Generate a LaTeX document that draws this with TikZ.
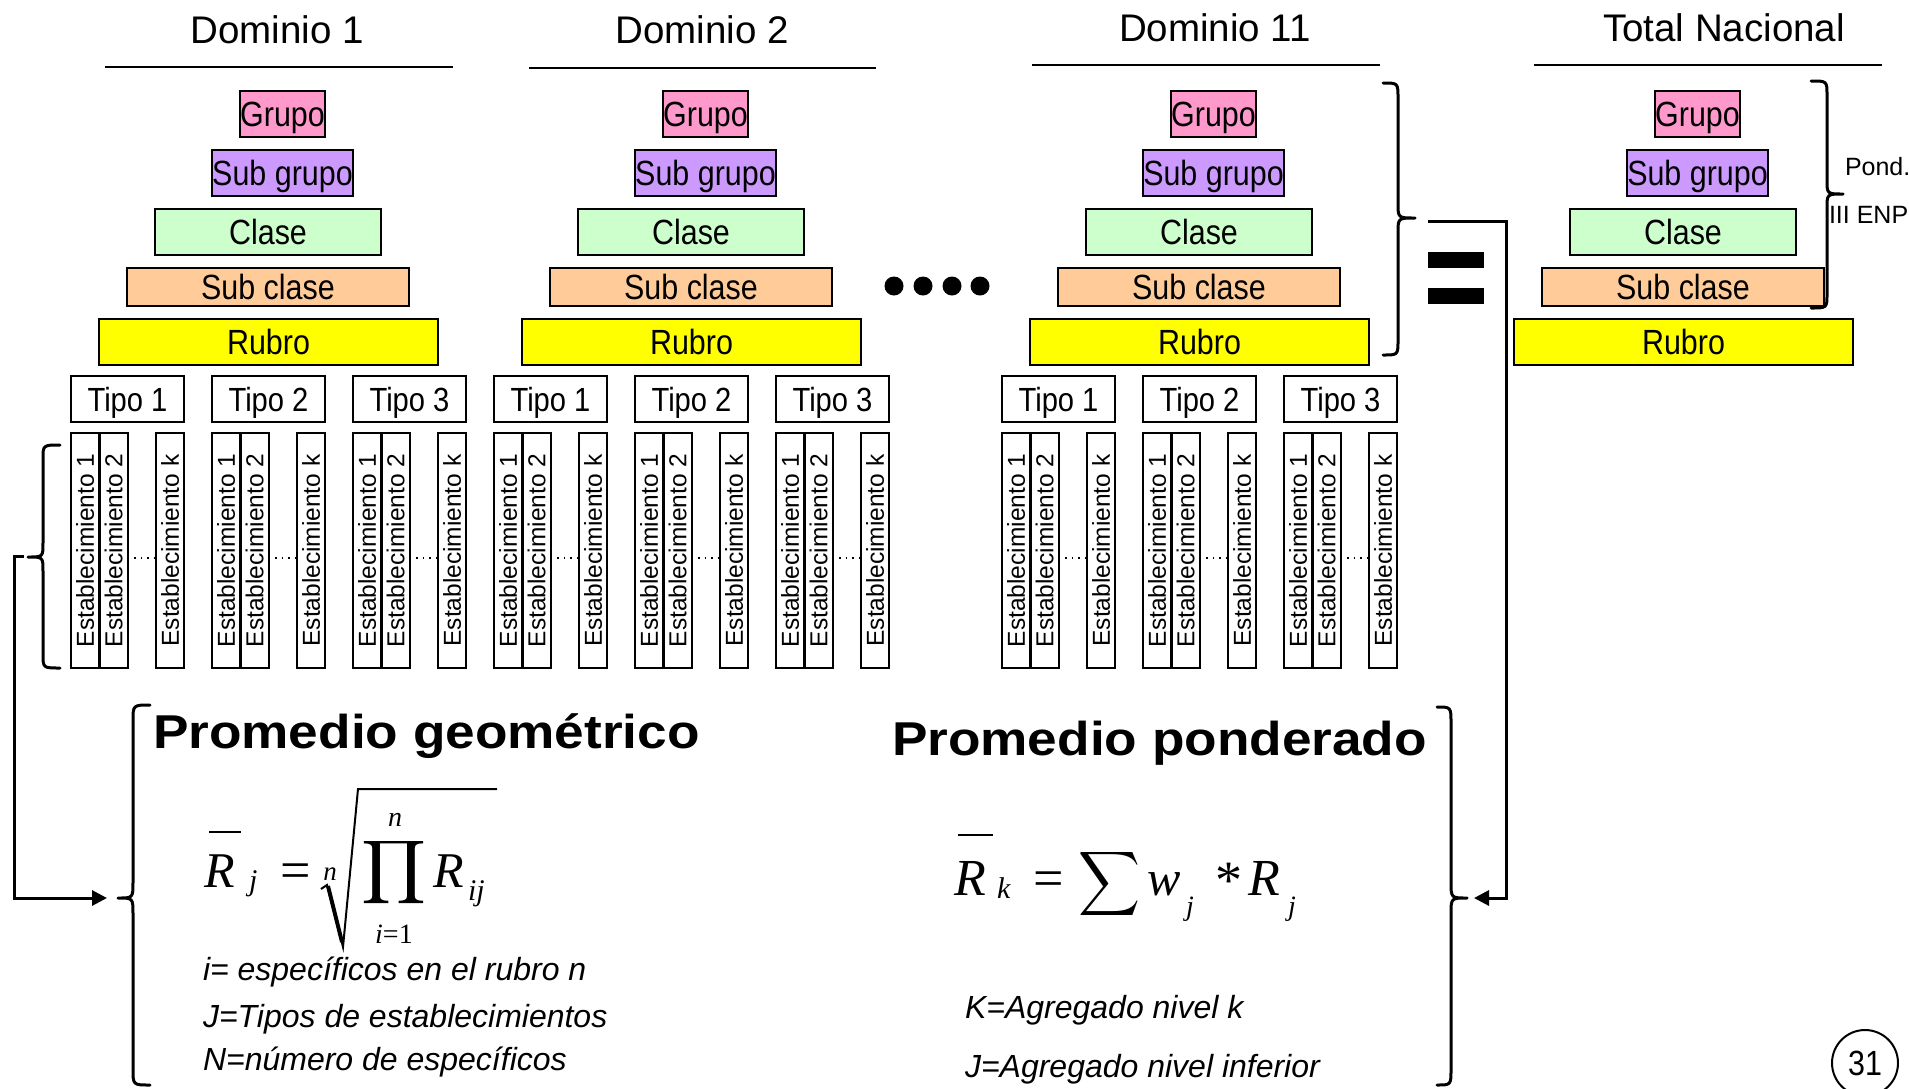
\documentclass[tikz,border=0pt]{standalone}
\usepackage{fontspec}
\usepackage{graphicx}
\setmainfont{Liberation Sans}
\newfontfamily\myNarrow[FakeStretch=0.87]{Liberation Sans}
\newfontfamily\myWide[FakeStretch=1.12]{Liberation Sans}
\newfontfamily\myTimes{Liberation Serif}
\usetikzlibrary{arrows.meta}
\definecolor{cgrupo}{HTML}{FF99CC}
\definecolor{csubgrupo}{HTML}{CC99FF}
\definecolor{cclase}{HTML}{CCFFCC}
\definecolor{csubclase}{HTML}{FFCC99}
\definecolor{crubro}{HTML}{FFFF00}
\newcommand\fsz[1]{\fontsize{#1}{#1}\selectfont}
\begin{document}
\begin{tikzpicture}[x=1pt,y=-1pt,
  every node/.style={inner sep=0pt, outer sep=0pt},
  lvl/.style={draw=black, line width=2.2pt, font=\myNarrow\fsz{35}, text height=25pt, text depth=0pt, minimum height=46pt},
  tipobox/.style={draw=black, line width=2.2pt, font=\myNarrow\fsz{33.5}, text height=24pt, text depth=0pt, minimum height=46pt, minimum width=113pt},
  estbox/.style={draw=black, line width=2pt, rotate=90, minimum width=235pt, minimum height=28pt, font=\fsz{24.5}, text height=17.5pt, text depth=0pt},
  hdr/.style={font=\fsz{38.5}, anchor=base},
  rulel/.style={line width=2pt},
  brace/.style={line width=3pt, line cap=round, line join=round},
  conn/.style={line width=3pt, -{Triangle[length=15pt,width=15pt]}},
  dotline/.style={line width=1.5pt, dash pattern=on 1.5pt off 5pt},
  note/.style={font=\itshape\fsz{32}, anchor=base west},
  ttl/.style={font=\myWide\bfseries\fsz{47.5}, anchor=base west},
  mit/.style={font=\myTimes\itshape\fsz{#1}},
  mrm/.style={font=\myTimes\fsz{#1}},
]
\useasboundingbox (0,0) rectangle (1909,1088);
\clip (0,0) rectangle (1909,1088);
\fill[white] (0,0) rectangle (1909,1088);

% headers
\node[hdr] (h1) at (277,43) {Dominio 1};
\node[hdr] (h2) at (702,43) {Dominio 2};
\node[hdr] (h3) at (1215,41) {Dominio 11};
\node[hdr] (h4) at (1724,41) {Total Nacional};
\draw[rulel] (105,67) -- (453,67);
\draw[rulel] (529,68) -- (876,68);
\draw[rulel] (1032,65) -- (1380,65);
\draw[rulel] (1534,65) -- (1882,65);

% pyramids
\foreach \o/\d in {0/1,423/2,931/3,1415/4}{
  \node[lvl, fill=cgrupo, minimum width=85pt] (grupo\d) at (\o+282.5,114) {Grupo};
  \node[lvl, fill=csubgrupo, minimum width=141pt] (subgrupo\d) at (\o+282.5,173) {Sub grupo};
  \node[lvl, fill=cclase, minimum width=226pt] (clase\d) at (\o+268,232) {Clase};
  \node[lvl, fill=csubclase, minimum width=282pt, minimum height=38pt] (subclase\d) at (\o+268,287) {Sub clase};
  \node[lvl, fill=crubro, minimum width=339pt] (rubro\d) at (\o+268.5,342) {Rubro};
}

% tipos and establecimientos
\foreach \o/\d in {0/1,423/2,931/3}{
  \foreach \t in {1,2,3}{
    \pgfmathsetmacro\xo{\o+71+141*(\t-1)}
    \node[tipobox] (tipo\d\t) at (\xo+56.5,399) {Tipo \t};
    \node[estbox] (est\d\t a) at (\xo+14,550.5) {Establecimiento 1};
    \node[estbox] (est\d\t b) at (\xo+42.5,550.5) {Establecimiento 2};
    \node[estbox] (est\d\t k) at (\xo+99,550.5) {Establecimiento k};
    \draw[dotline] ([yshift=-7.5pt]est\d\t b.south) -- ([yshift=-7.5pt]est\d\t k.north);
  }
}

% dots between domains
\foreach \cx in {894,923,952,980}{\fill (\cx,286) circle (9.5pt);}

% big equal sign
\fill (1428,252) rectangle (1484,268);
\fill (1428,288) rectangle (1484,304);

% braces
\draw[brace] (60,445) .. controls (43,445) .. (43,459) -- (43,543) .. controls (43,557) .. (28,557) .. controls (43,557) .. (43,571) -- (43,654) .. controls (43,668) .. (60,668);
\draw[brace] (150,705) .. controls (133,705) .. (133,721) -- (133,882) .. controls (133,898) .. (118,898) .. controls (133,898) .. (133,914) -- (133,1069) .. controls (133,1085) .. (150,1085);
\draw[brace] (1437,707) .. controls (1451,707) .. (1451,723) -- (1451,882) .. controls (1451,898) .. (1467,898) .. controls (1451,898) .. (1451,914) -- (1451,1069) .. controls (1451,1085) .. (1437,1085);
\draw[brace] (1383,83) .. controls (1398,83) .. (1398,98) -- (1398,203) .. controls (1398,218) .. (1415,218) .. controls (1398,218) .. (1398,233) -- (1398,340) .. controls (1398,355) .. (1383,355);
\draw[brace] (1811,81) .. controls (1827,81) .. (1827,95) -- (1827,180) .. controls (1827,194) .. (1843,194) .. controls (1827,194) .. (1827,208) -- (1827,294) .. controls (1827,308) .. (1811,308);

\node[font=\fsz{25}, anchor=base west] (pond) at (1845,175) {Pond.};
\node[font=\fsz{25}, anchor=base west] (enp) at (1829,223) {III ENP};

% connectors
\coordinate (estbr) at (24,556);
\coordinate (geotip) at (107,898);
\draw[conn] (estbr) -- ++(-10,0) |- (geotip);
\coordinate (eqtop) at (1428,221);
\coordinate (pondtip) at (1474,898);
\draw[conn] (eqtop) -- ++(78,0) |- (pondtip);

% titles
\node[ttl] (tgeo) at (153,748) {Promedio geométrico};
\node[ttl] (tpond) at (892,755) {Promedio ponderado};

% formula 1
\node[mit=50, anchor=base west] (f1r) at (204,887) {R};
\draw[line width=2pt] (209,832) -- (241,832);
\node[mit=30, anchor=base west] (f1j) at (249,890) {j};
\node[mrm=54, anchor=base] (f1eq) at (296,888) {=};
\node[mit=27, anchor=base] (f1n) at (330,880) {n};
\draw[line width=2pt, line join=miter] (321,889) -- (327,885) -- (343,947) -- (358,789) -- (497,789);
\draw[line width=4pt] (328,886) -- (342,942);
\node (f1prod) at (394.5,872.5) {\resizebox*{65pt}{71pt}{$\displaystyle\prod$}};
\node[mit=28, anchor=base] (f1top) at (395,826) {n};
\node[mrm=28, anchor=base] (f1bot) at (394,943) {\textit{i}=1};
\node[mit=50, anchor=base west] (f1r2) at (433,887) {R};
\node[mit=30, anchor=base west] (f1ij) at (468,900) {ij};

% formula 2
\node[mit=52, anchor=base west] (f2r) at (954,895) {R};
\draw[line width=2pt] (958,835) -- (993,835);
\node[mit=30, anchor=base west] (f2k) at (997,898) {k};
\node[mrm=54, anchor=base] (f2eq) at (1049,896) {=};
\node (f2sum) at (1109,884) {\resizebox*{62pt}{72pt}{$\displaystyle\sum$}};
\node[mit=50, anchor=base west] (f2w) at (1147,895) {w};
\node[mit=28, anchor=base west] (f2j) at (1186,915) {j};
\node[mrm=54, anchor=base] (f2ast) at (1229,898) {*};
\node[mit=52, anchor=base west] (f2r2) at (1248,895) {R};
\node[mit=28, anchor=base west] (f2j2) at (1288,915) {j};

% notes
\node[note] (n1) at (203,980) {i= específicos en el rubro n};
\node[note] (n2) at (203,1027) {J=Tipos de establecimientos};
\node[note] (n3) at (203,1070) {N=número de específicos};
\node[note] (n4) at (965,1018) {K=Agregado nivel k};
\node[note] (n5) at (965,1077) {J=Agregado nivel inferior};

% page number
\node[draw, circle, line width=2pt, minimum size=66pt, font=\myNarrow\fsz{35}, text height=25pt, text depth=0pt] (pg) at (1865,1063) {31};
\end{tikzpicture}
\end{document}
